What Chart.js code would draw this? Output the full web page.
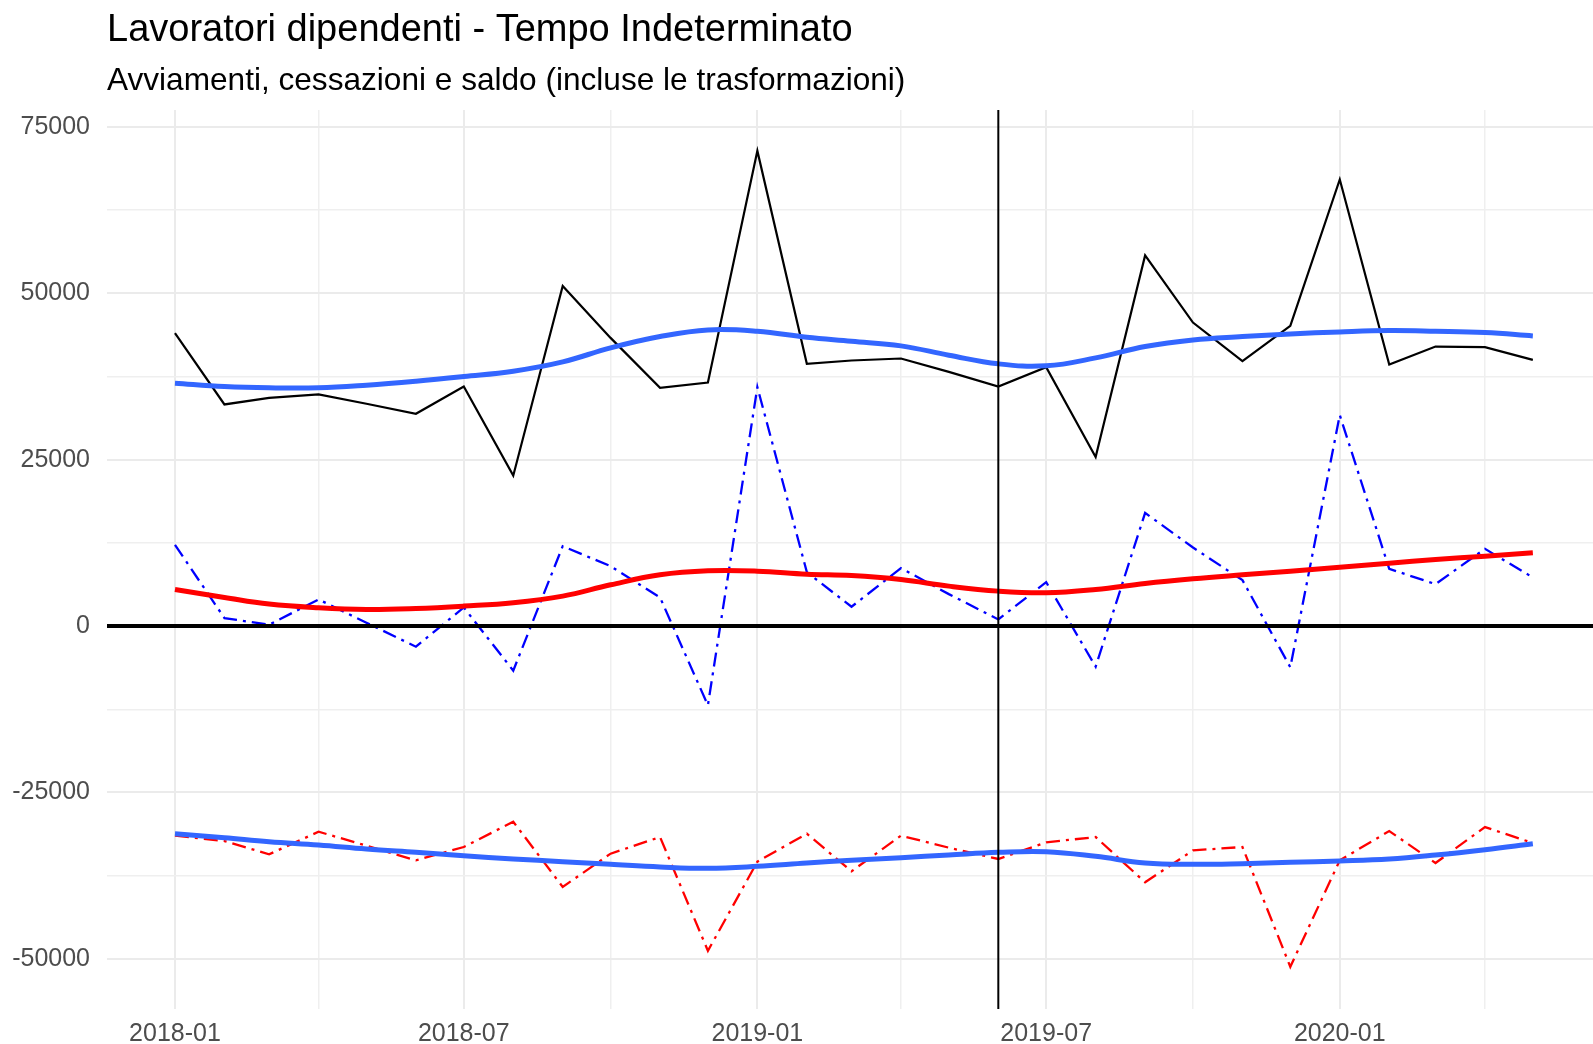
<!DOCTYPE html>
<html>
<head>
<meta charset="utf-8">
<script src="https://cdn.jsdelivr.net/npm/chart.js@4.4.1/dist/chart.umd.min.js"></script>
<style>
  html, body { margin: 0; padding: 0; background: #ffffff; }
  #wrap { width: 1593px; height: 1044px; position: relative; }
</style>
</head>
<body>
<div id="wrap"><canvas id="c" width="1593" height="1044"></canvas></div>
<script>
// ---------- DATA ----------
const months = [
  '2018-01','2018-02','2018-03','2018-04','2018-05','2018-06','2018-07','2018-08','2018-09','2018-10','2018-11','2018-12',
  '2019-01','2019-02','2019-03','2019-04','2019-05','2019-06','2019-07','2019-08','2019-09','2019-10','2019-11','2019-12',
  '2020-01','2020-02','2020-03','2020-04','2020-05'
];
// Avviamenti (black solid)
const avviamenti = [44000, 33300, 34300, 34800, 33400, 31900, 36000, 22600, 51100, 43300, 35800, 36600,
                    71400, 39400, 39900, 40200, 38200, 36000, 38900, 25400, 55700, 45600, 39800, 45100,
                    67100, 39300, 42000, 41900, 40000];
// Saldo (blue dot-dash)
const saldo = [12200, 1200, 200, 4000, 500, -3100, 2800, -6700, 12000, 9000, 4300, -11900,
               35900, 8100, 2900, 8700, 4800, 1000, 6600, -6100, 17000, 11800, 6900, -6200,
               31700, 8600, 6300, 11600, 7300];
// Cessazioni (red dot-dash)
const cessazioni = [-31500, -32300, -34300, -30900, -33000, -35200, -33200, -29400, -39200, -34200, -31700, -48800,
                    -35400, -31200, -36850, -31500, -33300, -35000, -32500, -31700, -38500, -33700, -33200, -51200,
                    -35200, -30800, -35600, -30200, -32600];
// Smoothed trends (LOESS curves)
const trendAvviamenti = [36500, 36000, 35800, 35800, 36200, 36800, 37500, 38300, 39700, 41800, 43500, 44500,
                         44300, 43400, 42800, 42100, 40700, 39400, 39100, 40300, 42000, 43000, 43500, 43900,
                         44200, 44400, 44300, 44100, 43600];
const trendSaldo = [5500, 4300, 3300, 2750, 2500, 2650, 3000, 3500, 4500, 6200, 7700, 8300,
                    8250, 7800, 7600, 7000, 6000, 5250, 5000, 5500, 6400, 7100, 7700, 8250,
                    8850, 9450, 10000, 10500, 11000];
const trendCessazioni = [-31200, -31800, -32400, -32900, -33500, -34000, -34500, -35000, -35400, -35800, -36200, -36400,
                         -36100, -35600, -35200, -34800, -34400, -34000, -33900, -34600, -35600, -35800, -35700, -35500,
                         -35300, -35000, -34400, -33600, -32700];

const xTickMonths = ['2018-01','2018-04','2018-07','2018-10','2019-01','2019-04','2019-07','2019-10','2020-01','2020-04'];
const xLabelMonths = ['2018-01','2018-07','2019-01','2019-07','2020-01'];
const yTickValues = [-50000, -37500, -25000, -12500, 0, 12500, 25000, 37500, 50000, 62500, 75000];
const yLabelStep = 25000;
const hLineValue = 0;
const vLineMonth = '2019-06';

const titleText = 'Lavoratori dipendenti - Tempo Indeterminato';
const subtitleText = 'Avviamenti, cessazioni e saldo (incluse le trasformazioni)';

// ---------- HELPERS ----------
const FONT = '"Liberation Sans", Arial, Helvetica, sans-serif';
function dayOf(m) {
  const [y, mo] = m.split('-').map(Number);
  return (Date.UTC(y, mo - 1, 1) - Date.UTC(2018, 0, 1)) / 86400000;
}
function series(vals) { return months.map((m, i) => ({ x: dayOf(m), y: vals[i] })); }

const refLines = {
  id: 'refLines',
  afterDatasetsDraw(chart) {
    const { ctx, chartArea: a, scales: { x, y } } = chart;
    ctx.save();
    ctx.beginPath(); ctx.rect(a.left, a.top, a.width, a.height); ctx.clip();
    ctx.strokeStyle = '#000000';
    const yy = y.getPixelForValue(hLineValue);
    ctx.lineWidth = 4;
    ctx.beginPath(); ctx.moveTo(a.left, yy); ctx.lineTo(a.right, yy); ctx.stroke();
    const xx = x.getPixelForValue(dayOf(vLineMonth));
    ctx.lineWidth = 2;
    ctx.beginPath(); ctx.moveTo(xx, a.top); ctx.lineTo(xx, a.bottom); ctx.stroke();
    ctx.restore();
  }
};

const dotdash = [14, 6, 3, 6];

new Chart(document.getElementById('c'), {
  type: 'line',
  data: {
    datasets: [
      { label: 'Trend avviamenti', data: series(trendAvviamenti), borderColor: '#3366FF', borderWidth: 5, tension: 0.4, pointRadius: 0, order: 1 },
      { label: 'Trend saldo', data: series(trendSaldo), borderColor: '#FF0000', borderWidth: 5, tension: 0.4, pointRadius: 0, order: 1 },
      { label: 'Trend cessazioni', data: series(trendCessazioni), borderColor: '#3366FF', borderWidth: 5, tension: 0.4, pointRadius: 0, order: 1 },
      { label: 'Avviamenti', data: series(avviamenti), borderColor: '#000000', borderWidth: 2.2, tension: 0, pointRadius: 0, order: 2 },
      { label: 'Saldo', data: series(saldo), borderColor: '#0000FF', borderWidth: 2.3, borderDash: dotdash, tension: 0, pointRadius: 0, order: 2 },
      { label: 'Cessazioni', data: series(cessazioni), borderColor: '#FF0000', borderWidth: 2.3, borderDash: dotdash, tension: 0, pointRadius: 0, order: 2 }
    ]
  },
  options: {
    responsive: false,
    animation: false,
    devicePixelRatio: 1,
    layout: { padding: 0 },
    plugins: {
      legend: { display: false },
      tooltip: { enabled: false },
      title: {
        display: true, text: titleText, align: 'start', fullSize: false, color: '#000000',
        font: { family: FONT, size: 38, weight: 'normal', lineHeight: 1.2 },
        padding: { top: 7.8, bottom: 0 }
      },
      subtitle: {
        display: true, text: subtitleText, align: 'start', fullSize: false, color: '#000000',
        font: { family: FONT, size: 31.6, weight: 'normal', lineHeight: 1.2 },
        padding: { top: 8.6, bottom: 10.1 }
      }
    },
    scales: {
      x: {
        type: 'linear',
        min: -42.6,
        max: 888.7,
        afterFit(s) { s.height = 35; },
        afterBuildTicks(s) { s.ticks = xTickMonths.map(m => ({ value: dayOf(m) })); },
        ticks: {
          autoSkip: false, maxRotation: 0, padding: 10, color: '#4d4d4d',
          font: { family: FONT, size: 25 },
          callback(v, i) { const m = xTickMonths[i]; return xLabelMonths.includes(m) ? m : ''; }
        },
        grid: {
          drawTicks: false,
          color: ctx => (ctx.tick && xLabelMonths.includes(xTickMonths[ctx.index])) ? '#ebebeb' : '#efefef',
          lineWidth: ctx => (ctx.tick && xLabelMonths.includes(xTickMonths[ctx.index])) ? 2 : 1.5
        },
        border: { display: false }
      },
      y: {
        type: 'linear',
        min: -57540,
        max: 77540,
        afterFit(s) { s.width = 107; },
        afterBuildTicks(s) { s.ticks = yTickValues.map(v => ({ value: v })); },
        ticks: {
          autoSkip: false, padding: 17, color: '#4d4d4d',
          font: { family: FONT, size: 25 },
          callback(v) { return v % yLabelStep === 0 ? String(v) : ''; }
        },
        grid: {
          drawTicks: false,
          color: ctx => (ctx.tick && ctx.tick.value % yLabelStep === 0) ? '#ebebeb' : '#efefef',
          lineWidth: ctx => (ctx.tick && ctx.tick.value % yLabelStep === 0) ? 2 : 1.5
        },
        border: { display: false }
      }
    }
  },
  plugins: [refLines]
});
</script>
</body>
</html>
